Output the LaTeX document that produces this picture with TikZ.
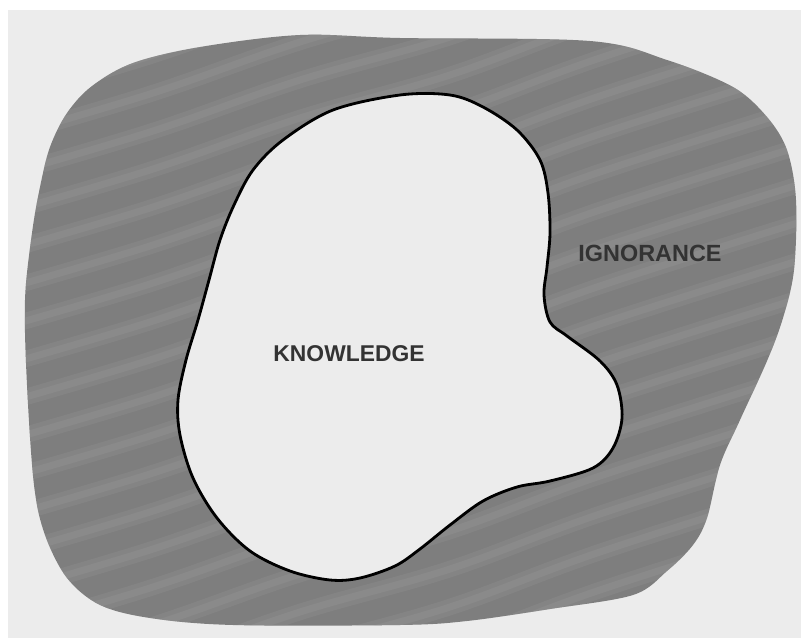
\documentclass[tikz,border=0pt]{standalone}
\usepackage{fontspec}
\setmainfont{Liberation Sans}
\definecolor{paper}{HTML}{ECECEC}
\definecolor{ignor}{HTML}{7E7E7E}
\definecolor{stripe}{HTML}{9C9C9C}
\definecolor{inkgrey}{HTML}{333333}
\tikzset{
  outerblob/.style={fill=ignor},
  innerblob/.style={fill=paper, draw=black, line width=2.4pt},
  label/.style={font=\bfseries\fontsize{19.5}{22}\selectfont, text=inkgrey, inner sep=0pt}
}
\begin{document}
\begin{tikzpicture}[x={(0.03cm,0)}, y={(0,-0.03cm)}]
\useasboundingbox (0,0) rectangle (801,638);
\fill[white] (0,0) rectangle (801,638);
\fill[paper] (8,10) rectangle (801,638);
% outer grey region (ignorance)
\def\outerpath{plot[smooth cycle, tension=0.55] coordinates {
 (300,35) (400,38) (590,41) (667,60) (733,87) (767,117) (787,150) (796,200)
 (794,270) (783,318) (767,361) (740,420) (720,465) (707,518) (693,545)
 (667,571) (633,595) (550,609) (467,621) (400,625) (233,625) (150,618)
 (100,605) (67,578) (45,535) (34,485) (27,385) (25,300) (32,233) (40,187)
 (50,147) (67,113) (92,86) (133,63) (200,47)}}
\path[outerblob] \outerpath;
\begin{scope}
\clip \outerpath;
\foreach \k in {-12,...,22}{
  \draw[stripe, line width=14pt, opacity=0.22, line cap=round]
    plot[smooth, tension=0.6] coordinates {(-20,{38*\k+220}) (150,{38*\k+170}) (300,{38*\k+118}) (450,{38*\k+75}) (600,{38*\k+20}) (820,{38*\k-50})};
  \draw[stripe, line width=6pt, opacity=0.25, line cap=round]
    plot[smooth, tension=0.6] coordinates {(-20,{38*\k+220}) (150,{38*\k+170}) (300,{38*\k+118}) (450,{38*\k+75}) (600,{38*\k+20}) (820,{38*\k-50})};
}
\end{scope}
% inner white region (knowledge)
\path[innerblob] plot[smooth cycle, tension=0.55] coordinates {
 (400,95) (450,95) (483,107) (517,130) (540,160) (548,193) (550,233)
 (547,267) (544,295) (550,322) (567,336) (600,361) (617,385) (622,418)
 (613,448) (593,468) (550,481) (517,487) (483,501) (450,525) (420,549)
 (395,566) (360,578) (330,580) (290,571) (250,551) (217,518) (193,478)
 (180,435) (178,400) (186,360) (198,320) (209,280) (220,240) (234,205)
 (253,170) (283,140) (333,110)};
\node[label] (knowledge) at (349,354) {KNOWLEDGE};
\node[label, font=\bfseries\fontsize{20}{23}\selectfont] (ignorance) at (650,253) {IGNORANCE};
\end{tikzpicture}
\end{document}
